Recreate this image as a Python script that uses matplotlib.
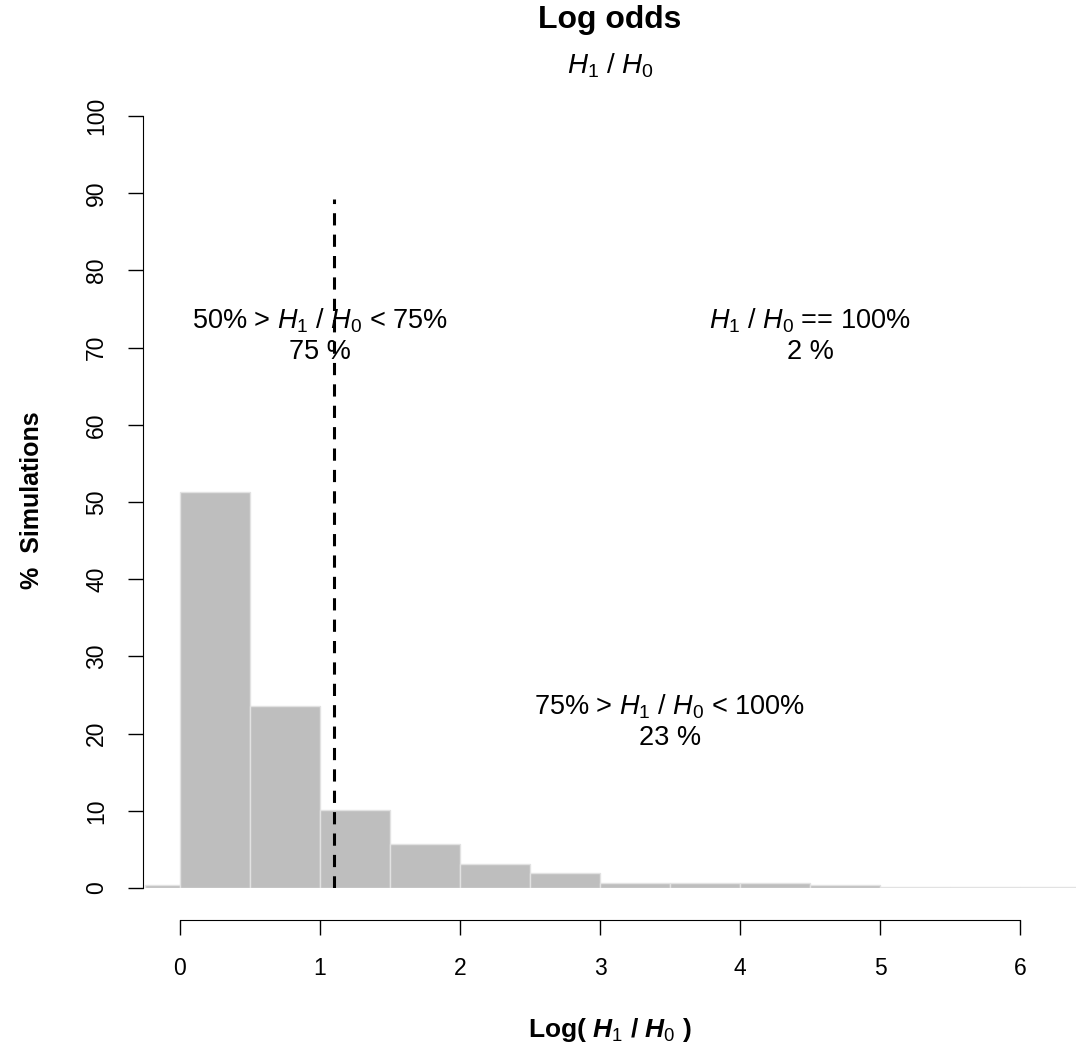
import matplotlib

matplotlib.use("Agg")
import matplotlib.pyplot as plt
import numpy as np

plt.rcParams["font.family"] = ["Liberation Sans", "DejaVu Sans"]
plt.rcParams["mathtext.fontset"] = "custom"
plt.rcParams["mathtext.rm"] = "Liberation Sans"
plt.rcParams["mathtext.it"] = "Liberation Sans:italic"
plt.rcParams["mathtext.bf"] = "Liberation Sans:bold"
plt.rcParams["mathtext.bfit"] = "Liberation Sans:italic:bold"

# histogram of log odds (% of simulations per bin)
bin_edges = [-0.25, 0.0, 0.5, 1.0, 1.5, 2.0, 2.5, 3.0, 3.5, 4.0, 4.5, 5.0, 5.5, 6.0, 6.5]
pct_sims = [0.4, 51.3, 23.6, 10.1, 5.7, 3.1, 2.0, 0.7, 0.7, 0.7, 0.4, 0.1, 0.1, 0.1]
threshold = 1.1
threshold_top = 89.3

labels = [
    (1.0, r"50% > $H_1$ / $H_0$ < 75%" + "\n75 %"),
    (4.5, r"$H_1$ / $H_0$ == 100%" + "\n2 %"),
    (3.5, r"75% > $H_1$ / $H_0$ < 100%" + "\n23 %"),
]
label_y = [71.5, 71.5, 21.5]

x_ticks = [0, 1, 2, 3, 4, 5, 6]
y_ticks = list(range(0, 101, 10))

W, H = 1084, 1048
fig = plt.figure(figsize=(W / 100, H / 100), dpi=100)
ax = fig.add_axes([143 / W, 1 - 888 / H, 933 / W, 772 / H])

edges = np.array(bin_edges)
ax.bar(edges[:-1], pct_sims, width=np.diff(edges), align="edge",
       color="#bebebe", edgecolor="#e2e2e2", linewidth=1.0)

ax.plot([threshold, threshold], [0, threshold_top], color="black",
        linestyle=(0, (4, 3)), linewidth=2.2)

for (x, txt), y in zip(labels, label_y):
    ax.text(x, y, txt, ha="center", va="center", fontsize=19.5, linespacing=1.2)

ax.set_xlim(-0.25 - 2 / 140, 6.4)
ax.set_ylim(0, 100)
for side in ["top", "right"]:
    ax.spines[side].set_visible(False)
ax.spines["left"].set_bounds(0, 100)
ax.spines["bottom"].set_position(("outward", 23))
ax.spines["bottom"].set_bounds(0, 6)
ax.set_xticks(x_ticks)
ax.set_yticks(y_ticks)
ax.set_yticklabels([str(v) for v in y_ticks], rotation=90, va="center")
ax.tick_params(axis="both", labelsize=16.5, length=11, width=1.0)
ax.tick_params(axis="x", pad=16)
ax.tick_params(axis="y", pad=14)

fig.text(32 / W, 1 - 500 / H, "%  Simulations", rotation=90, ha="center",
         va="center", fontsize=18, fontweight="bold")
fig.text(610 / W, 1 - 1030 / H, r"Log( $\mathbfit{H}_{1}$ / $\mathbfit{H}_{0}$ )",
         ha="center", va="center", fontsize=19, fontweight="bold")

fig.text(610 / W, 1 - 20 / H, "Log odds", ha="center", va="center",
         fontsize=23, fontweight="bold")
fig.text(610 / W, 1 - 66 / H, r"$H_1$ / $H_0$", ha="center", va="center",
         fontsize=20)

fig.savefig("out.png", dpi=100)
